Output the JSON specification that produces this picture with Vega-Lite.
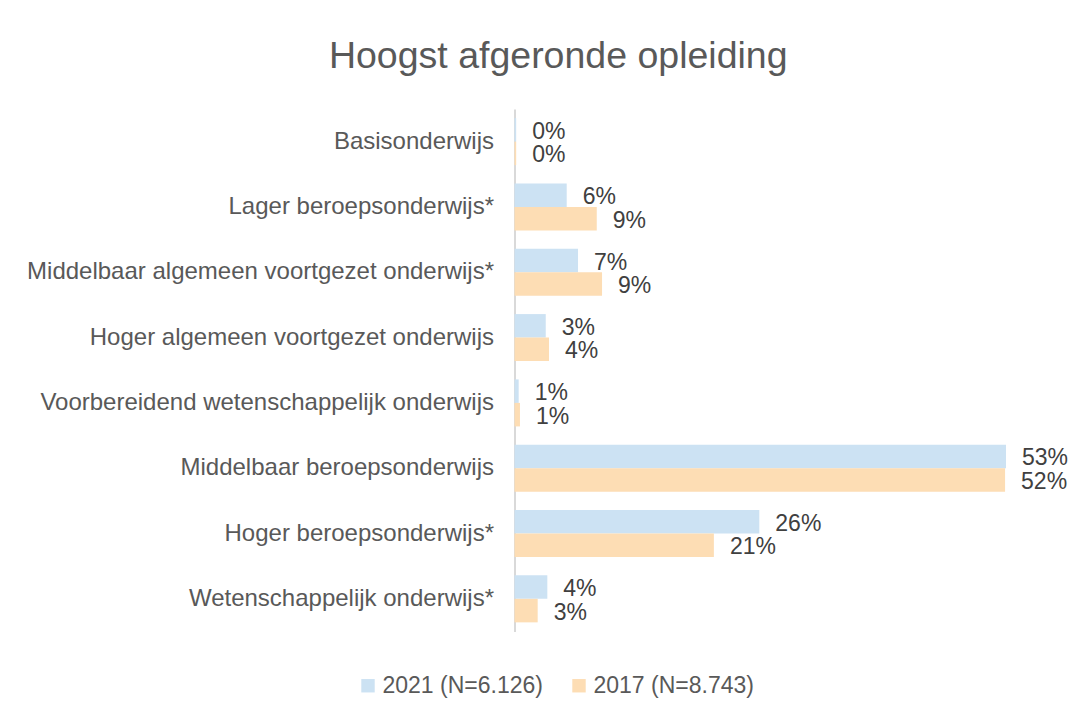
{
  "$schema": "https://vega.github.io/schema/vega-lite/v6.json",
  "autosize": "none",
  "width": 491.5,
  "height": 522.5,
  "padding": {"left": 514.5, "top": 109, "right": 86, "bottom": 82.5},
  "background": "white",
  "title": {
    "text": "Hoogst afgeronde opleiding",
    "font": "Liberation Sans",
    "fontSize": 37.5,
    "fontWeight": "normal",
    "color": "#595959",
    "anchor": "middle",
    "dx": -202,
    "offset": 34
  },
  "config": {
    "view": {"stroke": null},
    "font": "Liberation Sans"
  },
  "data": {
    "values": [
      {"opleiding": "Basisonderwijs", "reeks": "2021 (N=6.126)", "waarde": 0.18, "label": "0%"},
      {"opleiding": "Basisonderwijs", "reeks": "2017 (N=8.743)", "waarde": 0.18, "label": "0%"},
      {"opleiding": "Lager beroepsonderwijs*", "reeks": "2021 (N=6.126)", "waarde": 5.63, "label": "6%"},
      {"opleiding": "Lager beroepsonderwijs*", "reeks": "2017 (N=8.743)", "waarde": 8.87, "label": "9%"},
      {"opleiding": "Middelbaar algemeen voortgezet onderwijs*", "reeks": "2021 (N=6.126)", "waarde": 6.85, "label": "7%"},
      {"opleiding": "Middelbaar algemeen voortgezet onderwijs*", "reeks": "2017 (N=8.743)", "waarde": 9.44, "label": "9%"},
      {"opleiding": "Hoger algemeen voortgezet onderwijs", "reeks": "2021 (N=6.126)", "waarde": 3.37, "label": "3%"},
      {"opleiding": "Hoger algemeen voortgezet onderwijs", "reeks": "2017 (N=8.743)", "waarde": 3.72, "label": "4%"},
      {"opleiding": "Voorbereidend wetenschappelijk onderwijs", "reeks": "2021 (N=6.126)", "waarde": 0.45, "label": "1%"},
      {"opleiding": "Voorbereidend wetenschappelijk onderwijs", "reeks": "2017 (N=8.743)", "waarde": 0.59, "label": "1%"},
      {"opleiding": "Middelbaar beroepsonderwijs", "reeks": "2021 (N=6.126)", "waarde": 53.0, "label": "53%"},
      {"opleiding": "Middelbaar beroepsonderwijs", "reeks": "2017 (N=8.743)", "waarde": 52.9, "label": "52%"},
      {"opleiding": "Hoger beroepsonderwijs*", "reeks": "2021 (N=6.126)", "waarde": 26.4, "label": "26%"},
      {"opleiding": "Hoger beroepsonderwijs*", "reeks": "2017 (N=8.743)", "waarde": 21.5, "label": "21%"},
      {"opleiding": "Wetenschappelijk onderwijs*", "reeks": "2021 (N=6.126)", "waarde": 3.54, "label": "4%"},
      {"opleiding": "Wetenschappelijk onderwijs*", "reeks": "2017 (N=8.743)", "waarde": 2.5, "label": "3%"}
    ]
  },
  "encoding": {
    "y": {
      "field": "opleiding",
      "type": "nominal",
      "sort": null,
      "scale": {"paddingInner": 0.28, "paddingOuter": 0.14},
      "axis": {
        "title": null,
        "ticks": false,
        "domainColor": "#D9D9D9",
        "domainWidth": 2,
        "labelFontSize": 24,
        "labelColor": "#595959",
        "labelFont": "Liberation Sans",
        "labelPadding": 21,
        "labelLimit": 600
      }
    },
    "yOffset": {
      "field": "reeks",
      "type": "nominal",
      "sort": ["2021 (N=6.126)", "2017 (N=8.743)"]
    },
    "x": {
      "field": "waarde",
      "type": "quantitative",
      "scale": {"domain": [0, 53], "nice": false, "zero": true},
      "axis": null
    }
  },
  "layer": [
    {
      "mark": {"type": "bar"},
      "encoding": {
        "color": {
          "field": "reeks",
          "type": "nominal",
          "sort": ["2021 (N=6.126)", "2017 (N=8.743)"],
          "scale": {"domain": ["2021 (N=6.126)", "2017 (N=8.743)"], "range": ["#CCE2F3", "#FDDDB4"]},
          "legend": {
            "title": null,
            "orient": "none",
            "direction": "horizontal",
            "legendX": -158,
            "legendY": 565,
            "symbolType": "square",
            "symbolSize": 180,
            "symbolStrokeWidth": 0,
            "labelFontSize": 23,
            "labelColor": "#595959",
            "labelFont": "Liberation Sans",
            "labelOffset": 3,
            "labelLimit": 400,
            "columnPadding": 24
          }
        }
      }
    },
    {
      "mark": {"type": "text", "align": "left", "baseline": "middle", "dx": 16, "dy": 2, "fontSize": 23, "color": "#404040", "font": "Liberation Sans"},
      "encoding": {
        "text": {"field": "label"}
      }
    }
  ]
}
